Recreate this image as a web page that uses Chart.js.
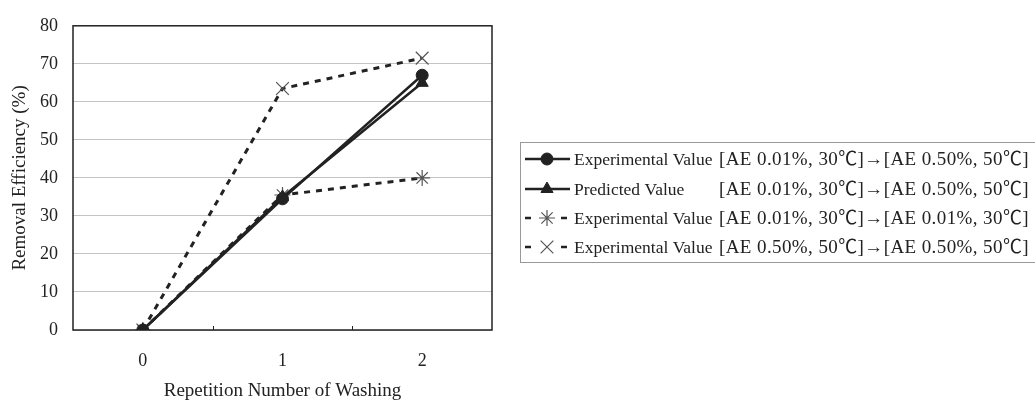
<!DOCTYPE html>
<html>
<head>
<meta charset="utf-8">
<script src="https://cdn.jsdelivr.net/npm/chart.js@4"></script>
<style>
    html, body { margin: 0; padding: 0; background: #fff; }
    #wrap { width: 1035px; height: 401px; position: relative; }
</style>
</head>
<body>
<div id="wrap"><canvas id="washChart"></canvas></div>
<script>
const washCounts = ['0', '1', '2'];
const expMixed = [0, 34.5, 67];
const predMixed = [0, 35, 65];
const expLowOnly = [0, 35.5, 40];
const expHighOnly = [0, 63.5, 71.5];
const seriesNames = ['Experimental Value', 'Predicted Value', 'Experimental Value', 'Experimental Value'];
const seriesConds = [
    '[AE 0.01%, 30\u2103]\u2192[AE 0.50%, 50\u2103]',
    '[AE 0.01%, 30\u2103]\u2192[AE 0.50%, 50\u2103]',
    '[AE 0.01%, 30\u2103]\u2192[AE 0.01%, 30\u2103]',
    '[AE 0.50%, 50\u2103]\u2192[AE 0.50%, 50\u2103]'
];
const yTicks = [0, 10, 20, 30, 40, 50, 60, 70, 80];

const serif = '"Liberation Serif", "Times New Roman", "Noto Sans CJK JP", serif';
const ink = '#222';

// frame, inner x ticks and the boxed legend
const extras = {
    id: 'extras',
    afterDraw(chart) {
        const { ctx, chartArea: a, scales: { x } } = chart;
        ctx.save();
        ctx.strokeStyle = ink;
        ctx.lineWidth = 1.5;
        ctx.strokeRect(a.left, a.top, a.right - a.left, a.bottom - a.top);

        ctx.lineWidth = 1;
        for (let i = 0; i < washCounts.length - 1; i++) {
            const bx = Math.round((x.getPixelForTick(i) + x.getPixelForTick(i + 1)) / 2) + 0.5;
            ctx.beginPath();
            ctx.moveTo(bx, a.bottom);
            ctx.lineTo(bx, a.bottom - 4);
            ctx.stroke();
        }

        // legend
        ctx.strokeStyle = '#999';
        ctx.strokeRect(520.5, 142.5, 530, 120);
        const rowY = [159, 189, 218, 247];
        chart.data.datasets.forEach((ds, i) => {
            const y = rowY[i];
            ctx.strokeStyle = ink;
            ctx.fillStyle = ink;
            ctx.lineWidth = 2.5;
            ctx.setLineDash([]);
            ctx.beginPath();
            if (ds.borderDash && ds.borderDash.length) {
                ctx.moveTo(525, y); ctx.lineTo(531, y);
                ctx.moveTo(561, y); ctx.lineTo(567, y);
            } else {
                ctx.moveTo(525, y); ctx.lineTo(570, y);
            }
            ctx.stroke();
            ctx.strokeStyle = ds.pointBorderColor;
            ctx.fillStyle = ds.pointBackgroundColor;
            ctx.lineWidth = ds.pointBorderWidth;
            Chart.helpers.drawPoint(ctx, {
                pointStyle: ds.pointStyle,
                radius: ds.pointRadius,
                borderWidth: ds.pointBorderWidth,
                rotation: 0
            }, 547, y);

            ctx.fillStyle = ink;
            ctx.textBaseline = 'middle';
            ctx.textAlign = 'left';
            ctx.font = '17.5px ' + serif;
            ctx.letterSpacing = '0px';
            ctx.fillText(seriesNames[i], 574, y + 1);
            ctx.font = '19px ' + serif;
            ctx.letterSpacing = '0.4px';
            ctx.fillText(seriesConds[i], 719, y + 1);
        });
        ctx.restore();
    }
};

new Chart(document.getElementById('washChart'), {
    type: 'line',
    data: {
        labels: washCounts,
        datasets: [
            {
                label: seriesNames[0] + ' ' + seriesConds[0],
                data: expMixed,
                borderColor: ink, borderWidth: 2.5,
                pointStyle: 'circle', pointRadius: 6,
                pointBackgroundColor: ink, pointBorderColor: ink, pointBorderWidth: 1
            },
            {
                label: seriesNames[1] + ' ' + seriesConds[1],
                data: predMixed,
                borderColor: ink, borderWidth: 2.5,
                pointStyle: 'triangle', pointRadius: 7,
                pointBackgroundColor: ink, pointBorderColor: ink, pointBorderWidth: 1
            },
            {
                label: seriesNames[2] + ' ' + seriesConds[2],
                data: expLowOnly,
                borderColor: ink, borderWidth: 3, borderDash: [6, 6],
                pointStyle: 'star', pointRadius: 8,
                pointBackgroundColor: '#555', pointBorderColor: '#555', pointBorderWidth: 1.2
            },
            {
                label: seriesNames[3] + ' ' + seriesConds[3],
                data: expHighOnly,
                borderColor: ink, borderWidth: 3, borderDash: [6, 6],
                pointStyle: 'crossRot', pointRadius: 9,
                pointBackgroundColor: '#555', pointBorderColor: '#555', pointBorderWidth: 1.2
            }
        ]
    },
    options: {
        responsive: true,
        maintainAspectRatio: false,
        animation: false,
        layout: { padding: { top: 17, right: 543, left: 0, bottom: 0 } },
        plugins: { legend: { display: false }, tooltip: { enabled: false } },
        scales: {
            x: {
                offset: true,
                grid: { display: false, drawTicks: false },
                border: { display: false },
                ticks: { color: ink, font: { family: serif, size: 18 }, padding: 20 },
                title: {
                    display: true, text: 'Repetition Number of Washing', color: ink,
                    font: { family: serif, size: 19, lineHeight: 1.1 }, padding: { top: 0, bottom: 0 }
                },
                afterFit: (s) => { s.height = 71; }
            },
            y: {
                min: 0, max: 80,
                afterBuildTicks: (s) => { s.ticks = yTicks.map(v => ({ value: v })); },
                grid: { color: '#c4c4c4', lineWidth: 1, drawTicks: false },
                border: { display: false },
                ticks: { color: ink, font: { family: serif, size: 18 }, padding: 15 },
                title: {
                    display: true, text: 'Removal Efficiency (%)', color: ink,
                    font: { family: serif, size: 19, lineHeight: 1.1 }, padding: { top: 10, bottom: 0 }
                },
                afterFit: (s) => { s.width = 73; }
            }
        }
    },
    plugins: [extras]
});
</script>
</body>
</html>
